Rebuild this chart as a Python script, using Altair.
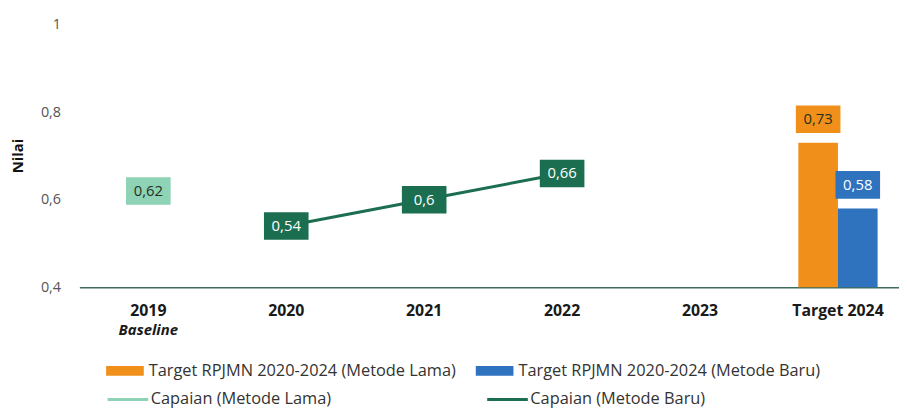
import altair as alt
import pandas as pd

# ---- data ----
categories = ["2019", "2020", "2021", "2022", "2023", "Target 2024"]
series_names = [
    "Target RPJMN 2020-2024 (Metode Lama)",
    "Target RPJMN 2020-2024 (Metode Baru)",
    "Capaian (Metode Lama)",
    "Capaian (Metode Baru)",
]
series_colors = ["#F0901A", "#2F73BF", "#8ED3B5", "#1B6E4F"]

lama_years = ["2019"]
lama_values = [0.62]
baru_years = ["2020", "2021", "2022"]
baru_values = [0.54, 0.60, 0.66]
target_names = series_names[:2]
target_values = [0.73, 0.58]
target_category = "Target 2024"
y_ticks = [0.4, 0.6, 0.8, 1.0]
baseline_year = ["2019"]
baseline_note = ["Baseline"]

FONT = "Open Sans"
dark_text_series = [series_names[0], series_names[2]]

capaian = pd.DataFrame({
    "year": lama_years + baru_years,
    "value": lama_values + baru_values,
    "series": [series_names[2]] * len(lama_years) + [series_names[3]] * len(baru_years),
})
targets = pd.DataFrame({
    "year": [target_category] * len(target_names),
    "value": target_values,
    "series": target_names,
})
notes = pd.DataFrame({"year": baseline_year, "note": baseline_note, "value": [y_ticks[0]]})

label_expr = "replace(format(datum.value, '.2~f'), '.', ',')"
dark_test = " || ".join([f"datum.series == '{s}'" for s in dark_text_series])

x_enc = alt.X(
    "year:N",
    scale=alt.Scale(domain=categories, paddingInner=0, paddingOuter=0),
    axis=alt.Axis(
        title=None, labelAngle=0, labelFont=FONT, labelFontSize=16, labelFontWeight="bold",
        labelColor="#1a1a1a", ticks=False, domainColor="#3E6B5A", domainWidth=1.5,
        labelPadding=15,
    ),
)
y_enc = alt.Y(
    "value:Q",
    scale=alt.Scale(domain=[0.4, 1.0], nice=False, zero=False),
    axis=alt.Axis(
        values=y_ticks, labelExpr="replace(format(datum.value, '.1~f'), '.', ',')",
        grid=False, domain=False, ticks=False, labelFont=FONT, labelFontSize=14.5,
        labelColor="#555555", labelPadding=19, title="Nilai", titleFont=FONT,
        titleFontSize=15, titleFontWeight="bold", titleColor="#111111",
        titleX=-62, titleY=132, titleAngle=-90, titleAlign="center", titleBaseline="middle",
    ),
)
x_off = alt.XOffset("series:N", scale=alt.Scale(domain=target_names, paddingInner=0, paddingOuter=0.74))

fill_enc = alt.Fill("series:N", scale=alt.Scale(domain=series_names, range=series_colors), legend=None)
text_color = alt.condition(dark_test, alt.value("#24301f"), alt.value("white"))

box_path = "M-1,-0.62L1,-0.62L1,0.62L-1,0.62Z"
box_up_path = "M-1,-1.68L1,-1.68L1,-0.44L-1,-0.44Z"

bars = alt.Chart(targets).mark_bar().encode(
    x=x_enc, y=y_enc, y2=alt.datum(y_ticks[0]), xOffset=x_off,
    color=alt.Color(
        "series:N",
        scale=alt.Scale(domain=target_names, range=series_colors[:2]),
        legend=alt.Legend(
            title=None, orient="none", legendX=27, legendY=330, direction="horizontal",
            columns=2, columnPadding=19, symbolType="M-1,-0.26L1,-0.26L1,0.26L-1,0.26Z",
            symbolSize=1444, symbolStrokeWidth=0, labelFont=FONT, labelFontSize=16.5,
            labelColor="#333333", labelOffset=5, labelLimit=0,
        ),
    ),
)

line = alt.Chart(capaian).mark_line(strokeWidth=3).encode(
    x=x_enc, y=y_enc,
    stroke=alt.Stroke(
        "series:N",
        scale=alt.Scale(domain=series_names[2:], range=series_colors[2:]),
        legend=alt.Legend(
            title=None, orient="none", legendX=27, legendY=356, direction="horizontal",
            columns=2, columnPadding=150, symbolType="stroke", symbolSize=1681,
            symbolStrokeWidth=3, labelFont=FONT, labelFontSize=16.5, labelColor="#333333",
            labelOffset=1, labelLimit=0,
        ),
    ),
)

cap_boxes = alt.Chart(capaian).mark_point(
    shape=box_path, size=2025, filled=True, opacity=1, strokeWidth=0
).encode(x=x_enc, y=y_enc, fill=fill_enc)

cap_text = alt.Chart(capaian).transform_calculate(label=label_expr).mark_text(
    font=FONT, fontSize=15
).encode(x=x_enc, y=y_enc, text="label:N", color=text_color)

tgt_boxes = alt.Chart(targets).mark_point(
    shape=box_up_path, size=2025, filled=True, opacity=1, strokeWidth=0
).encode(x=x_enc, y=y_enc, xOffset=x_off, fill=fill_enc)

tgt_text = alt.Chart(targets).transform_calculate(label=label_expr).mark_text(
    font=FONT, fontSize=15, dy=-24
).encode(x=x_enc, y=y_enc, xOffset=x_off, text="label:N", color=text_color)

note = alt.Chart(notes).mark_text(
    font=FONT, fontSize=15, fontWeight="bold", fontStyle="italic", dy=43, color="#1a1a1a"
).encode(x=x_enc, y=y_enc, text="note:N")

chart = alt.layer(bars, line, cap_boxes, cap_text, tgt_boxes, tgt_text, note).resolve_scale(
    color="independent", fill="independent", stroke="independent"
).properties(
    width=835, height=265,
    autosize=alt.AutoSizeParams(type="none"),
    padding={"left": 72, "top": 15, "right": -8, "bottom": 123},
    background="white",
).configure_view(stroke=None)

chart.save("out.html", embed_options={"renderer": "svg", "actions": False})
